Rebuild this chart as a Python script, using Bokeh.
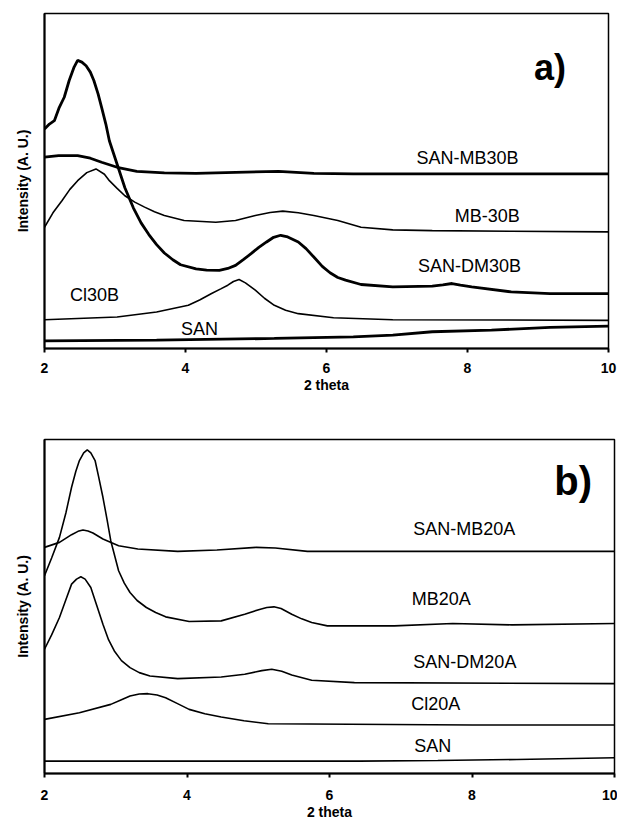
from bokeh.plotting import figure
from bokeh.models import Range1d, FixedTicker, Label
from bokeh.layouts import column
from bokeh.embed import file_html
from bokeh.resources import INLINE

# ---------------- data: panel a ----------------
a_dm30b_x = [2.0, 2.07, 2.14, 2.21, 2.28, 2.35, 2.42, 2.47, 2.53, 2.59, 2.65, 2.70, 2.76, 2.81, 2.87, 2.92,
             3.03, 3.14, 3.26, 3.37, 3.48, 3.59, 3.70, 3.82, 3.93, 4.15, 4.30, 4.48, 4.60, 4.71, 4.82, 4.93,
             5.04, 5.15, 5.25, 5.35, 5.45, 5.60, 5.71, 5.82, 5.94, 6.05, 6.16, 6.27, 6.49, 6.94, 7.50, 7.65,
             7.78, 7.90, 8.06, 8.62, 9.17, 10.0]
a_dm30b_y = [65.5, 67.0, 68.0, 72.0, 75.0, 80.0, 84.0, 86.0, 85.5, 84.4, 82.5, 80.0, 76.0, 72.0, 67.0, 62.0,
             55.0, 48.0, 42.0, 37.5, 34.0, 31.0, 28.5, 26.5, 25.0, 23.8, 23.4, 23.3, 23.9, 24.8, 26.5, 28.3,
             30.2, 31.8, 33.2, 33.8, 33.3, 31.8, 29.8, 27.3, 24.5, 22.6, 21.2, 20.4, 19.1, 18.4, 18.6, 19.0,
             19.4, 18.9, 18.4, 16.9, 16.4, 16.4]
a_mb30b_san_x = [2.0, 2.2, 2.47, 2.65, 2.81, 3.03, 3.31, 3.7, 4.15, 4.71, 5.32, 5.82, 6.38, 6.94, 8.06, 10.0]
a_mb30b_san_y = [57.1, 57.6, 57.6, 56.8, 55.6, 54.1, 52.9, 52.4, 52.3, 52.6, 52.9, 52.3, 52.1, 52.1, 52.1, 52.1]
a_mb30b_x = [2.0, 2.12, 2.25, 2.36, 2.47, 2.60, 2.73, 2.85, 2.92, 3.03, 3.14, 3.28, 3.42, 3.56, 3.70, 3.98,
             4.43, 4.71, 4.99, 5.20, 5.38, 5.60, 5.82, 6.16, 6.49, 6.94, 7.50, 8.62, 10.0]
a_mb30b_y = [36.2, 40.5, 44.2, 47.5, 50.1, 52.5, 53.6, 52.0, 50.1, 47.8, 45.6, 43.7, 42.2, 40.8, 39.7, 38.2,
             37.7, 38.2, 39.7, 40.6, 41.0, 40.5, 39.7, 38.2, 36.2, 35.4, 35.2, 35.0, 34.8]
a_cl30b_x = [2.0, 3.03, 3.59, 4.04, 4.20, 4.37, 4.50, 4.60, 4.68, 4.76, 4.85, 4.99, 5.12, 5.26, 5.42, 5.60,
             6.10, 6.94, 10.0]
a_cl30b_y = [8.6, 9.4, 10.9, 12.9, 14.5, 16.4, 17.8, 18.9, 20.0, 20.6, 19.6, 17.4, 15.0, 12.9, 11.4, 10.4,
             9.2, 8.6, 8.4]
a_san_x = [2.0, 3.59, 5.26, 6.38, 6.94, 7.50, 8.34, 9.17, 10.0]
a_san_y = [2.3, 2.5, 3.0, 3.5, 4.0, 5.0, 5.5, 6.3, 6.7]

a_labels = ["SAN-MB30B", "MB-30B", "SAN-DM30B", "Cl30B", "SAN"]
a_label_x = [8.0, 8.28, 8.03, 2.71, 4.2]
a_label_y = [56.8, 39.7, 24.6, 15.9, 5.8]

# ---------------- data: panel b ----------------
b_mb20a_san_x = [2.0, 2.21, 2.38, 2.47, 2.54, 2.61, 2.68, 2.82, 3.04, 3.31, 3.87, 4.42, 4.97, 5.24, 5.69,
                 6.91, 10.0]
b_mb20a_san_y = [67.7, 69.2, 71.5, 72.5, 72.9, 72.6, 72.0, 70.2, 68.2, 67.2, 66.5, 66.9, 67.7, 67.5, 66.5,
                 66.5, 66.5]
b_mb20a_x = [2.0, 2.10, 2.21, 2.30, 2.38, 2.44, 2.49, 2.55, 2.60, 2.65, 2.71, 2.76, 2.82, 2.88, 2.93, 3.04,
             3.12, 3.20, 3.30, 3.43, 3.56, 3.70, 4.03, 4.48, 4.81, 5.03, 5.12, 5.22, 5.32, 5.47, 5.61, 5.75,
             5.97, 6.91, 7.73, 8.56, 10.0]
b_mb20a_y = [59.2, 64.5, 70.7, 78.0, 85.7, 90.5, 93.7, 96.0, 96.9, 96.0, 93.7, 88.8, 82.7, 75.8, 69.7, 60.7,
             57.0, 54.2, 51.8, 49.7, 48.2, 46.9, 45.5, 45.7, 47.7, 49.2, 49.7, 49.9, 49.4, 47.7, 46.3, 45.2,
             44.2, 44.2, 44.9, 44.5, 44.9]
b_dm20a_x = [2.0, 2.10, 2.21, 2.30, 2.38, 2.45, 2.51, 2.57, 2.65, 2.73, 2.82, 2.90, 2.98, 3.08, 3.20, 3.33,
             3.48, 3.87, 4.48, 4.81, 5.05, 5.19, 5.33, 5.47, 5.75, 6.35, 10.0]
b_dm20a_y = [37.2, 41.5, 46.7, 52.0, 56.7, 58.2, 58.9, 58.2, 55.7, 50.5, 44.7, 40.0, 36.7, 33.8, 31.7, 30.2,
             29.2, 28.4, 28.9, 29.7, 30.8, 31.2, 30.6, 29.5, 27.9, 27.2, 26.9]
b_cl20a_x = [2.0, 2.49, 2.93, 3.08, 3.20, 3.33, 3.45, 3.58, 3.70, 3.86, 4.03, 4.25, 4.48, 4.80, 5.14, 8.01, 10.0]
b_cl20a_y = [16.2, 18.2, 20.7, 22.1, 23.2, 23.8, 23.9, 23.5, 22.7, 21.0, 19.2, 17.9, 16.9, 15.8, 14.9, 14.5, 14.5]
b_san_x = [2.0, 6.42, 7.52, 8.63, 10.0]
b_san_y = [3.7, 3.7, 3.9, 4.2, 4.7]

b_labels = ["SAN-MB20A", "MB20A", "SAN-DM20A", "Cl20A", "SAN"]
b_label_x = [7.89, 7.57, 7.9, 7.49, 7.45]
b_label_y = [73.2, 52.2, 33.5, 20.7, 8.2]

x_ticks = [2, 4, 6, 8, 10]
x_title = "2 theta"
y_title = "Intensity (A. U.)"

FONT = "Liberation Sans"


def make_fig(frame_w, frame_h, left, right, top, bottom, tick_standoff):
    p = figure(frame_width=frame_w, frame_height=frame_h,
               min_border_left=left, min_border_right=right,
               min_border_top=top, min_border_bottom=bottom,
               x_range=Range1d(2, 10), y_range=Range1d(0, 100),
               output_backend="svg", toolbar_location=None)
    p.xgrid.visible = False
    p.ygrid.visible = False
    p.outline_line_color = "black"
    p.outline_line_width = 1.5
    p.background_fill_color = "white"
    p.border_fill_color = "white"
    # x axis
    p.xaxis.ticker = FixedTicker(ticks=x_ticks)
    p.xaxis.minor_tick_line_color = None
    p.xaxis.major_tick_in = 0
    p.xaxis.major_tick_out = 4
    p.xaxis.major_tick_line_width = 2
    p.xaxis.axis_line_width = 2
    p.xaxis.axis_line_color = "black"
    p.xaxis.major_label_text_font = FONT
    p.xaxis.major_label_text_font_style = "bold"
    p.xaxis.major_label_text_font_size = "14px"
    p.xaxis.major_label_text_color = "black"
    p.xaxis.major_label_standoff = tick_standoff
    p.xaxis.axis_label = x_title
    p.xaxis.axis_label_text_font = FONT
    p.xaxis.axis_label_text_font_style = "bold"
    p.xaxis.axis_label_text_font_size = "14px"
    p.xaxis.axis_label_text_color = "black"
    p.xaxis.axis_label_standoff = 1
    # y axis
    p.yaxis.ticker = FixedTicker(ticks=[])
    p.yaxis.minor_tick_line_color = None
    p.yaxis.major_tick_out = 0
    p.yaxis.major_tick_in = 0
    p.yaxis.major_label_standoff = 0
    p.yaxis.axis_line_width = 2
    p.yaxis.axis_line_color = "black"
    p.yaxis.axis_label = y_title
    p.yaxis.axis_label_text_font = FONT
    p.yaxis.axis_label_text_font_style = "bold"
    p.yaxis.axis_label_text_font_size = "14px"
    p.yaxis.axis_label_text_color = "black"
    p.yaxis.axis_label_standoff = 14
    return p


def add_labels(p, labels, xs, ys):
    for t, x, y in zip(labels, xs, ys):
        p.add_layout(Label(x=x, y=y, text=t, text_align="center", text_baseline="middle",
                           text_font=FONT, text_font_size="18px", text_color="black"))


# ---------------- panel a ----------------
pa = make_fig(564, 335, 44, 9, 13, 62, 10)
pa.line(a_mb30b_san_x, a_mb30b_san_y, line_color="black", line_width=2.8)
pa.line(a_mb30b_x, a_mb30b_y, line_color="black", line_width=1.6)
pa.line(a_dm30b_x, a_dm30b_y, line_color="black", line_width=2.8)
pa.line(a_cl30b_x, a_cl30b_y, line_color="black", line_width=1.6)
pa.line(a_san_x, a_san_y, line_color="black", line_width=2.8)
add_labels(pa, a_labels, a_label_x, a_label_y)
pa.add_layout(Label(x=9.17, y=83.8, text="a)", text_align="center", text_baseline="middle",
                    text_font=FONT, text_font_style="bold", text_font_size="36px", text_color="black"))

# ---------------- panel b ----------------
pb = make_fig(570, 334, 44, 3, 29, 48, 12)
for xs, ys in [(b_mb20a_san_x, b_mb20a_san_y), (b_mb20a_x, b_mb20a_y), (b_dm20a_x, b_dm20a_y),
               (b_cl20a_x, b_cl20a_y), (b_san_x, b_san_y)]:
    pb.line(xs, ys, line_color="black", line_width=1.6)
add_labels(pb, b_labels, b_label_x, b_label_y)
pb.add_layout(Label(x=9.42, y=87.7, text="b)", text_align="center", text_baseline="middle",
                    text_font=FONT, text_font_style="bold", text_font_size="40px", text_color="black"))

layout = column(pa, pb, spacing=0)
open("out.html", "w").write(file_html(layout, INLINE))
